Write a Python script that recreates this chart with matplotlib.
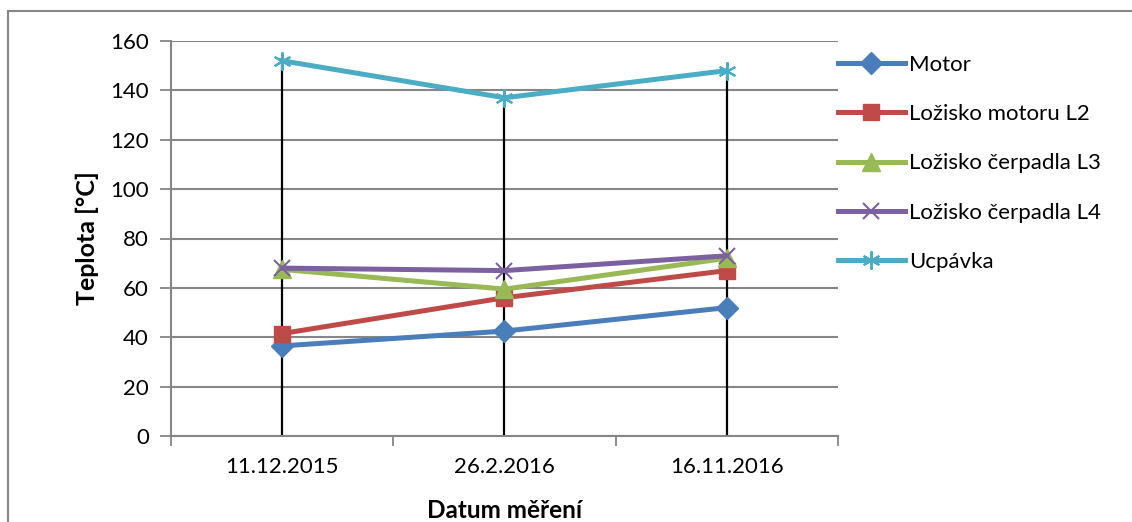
import matplotlib
matplotlib.use("Agg")
import matplotlib.pyplot as plt
from matplotlib.patches import Rectangle
import numpy as np

dates = ["11.12.2015", "26.2.2016", "16.11.2016"]
motor = [36.5, 42.5, 52]
lozisko_l2 = [41.5, 56, 67]
lozisko_l3 = [67.5, 59.5, 72]
lozisko_l4 = [68, 67, 73]
ucpavka = [152, 137, 148]
series_names = ["Motor", "Ložisko motoru L2", "Ložisko čerpadla L3",
                "Ložisko čerpadla L4", "Ucpávka"]
y_ticks = [0, 20, 40, 60, 80, 100, 120, 140, 160]

plt.rcParams["font.family"] = ["Lato", "DejaVu Sans"]
grey = "#868686"

fig = plt.figure(figsize=(11.32, 5.22), dpi=100)
ax = fig.add_axes([171 / 1132, 1 - 436 / 522, (838 - 171) / 1132, (436 - 41) / 522])

# chart area frame
fig.patches.append(Rectangle((8 / 1132, -0.1), 1.2, 1 - 11 / 522 + 0.1,
                             transform=fig.transFigure, fill=False,
                             edgecolor=grey, linewidth=1.5))

x = np.arange(len(dates))
all_series = [motor, lozisko_l2, lozisko_l3, lozisko_l4, ucpavka]

# drop lines from each category down to the axis
tops = np.max(np.array(all_series), axis=0)
ax.vlines(x, 0, tops, color="black", linewidth=1.6, zorder=2)

styles = [
    dict(color="#4A7EBB", marker="D", markersize=11),
    dict(color="#BE4B48", marker="s", markersize=12),
    dict(color="#98B954", marker="^", markersize=13),
    dict(color="#7D60A0", marker="x", markersize=12, markeredgewidth=1.5),
    dict(color="#4BACC6", marker=(6, 2, 0), markersize=13, markeredgewidth=1.5),
]
for name, vals, st in zip(series_names, all_series, styles):
    ax.plot(x, vals, linewidth=3.6, label=name, zorder=3, **st)

ax.set_xlim(-0.5, 2.5)
ax.set_ylim(0, 160)
ax.set_yticks(y_ticks)
ax.set_xticks([-0.5, 0.5, 1.5, 2.5])
ax.set_xticklabels([])
ax.set_xticks(x, minor=True)
ax.set_xticklabels(dates, minor=True)
ax.tick_params(axis="x", which="minor", length=0, pad=15, labelsize=16)
ax.tick_params(axis="x", which="major", direction="out", length=7, color=grey, width=1.3)
ax.tick_params(axis="y", direction="out", length=8, color=grey, width=1.3,
               labelsize=16, pad=8)

ax.grid(axis="y", color=grey, linewidth=1.5, zorder=0)
ax.set_axisbelow(True)
for side in ["top", "right"]:
    ax.spines[side].set_visible(False)
for side in ["left", "bottom"]:
    ax.spines[side].set_color(grey)
    ax.spines[side].set_linewidth(1.5)

ax.set_ylabel("Teplota [°C]", fontsize=18, fontweight="bold", labelpad=8)
ax.set_xlabel("Datum měření", fontsize=17.5, fontweight="bold", labelpad=16)

ax.legend(loc="upper left", bbox_to_anchor=(1.0, 0.965), frameon=False,
          fontsize=16, handlelength=3.0, handletextpad=0.2,
          labelspacing=1.32, borderaxespad=0, borderpad=0)

fig.savefig("out.png", dpi=100)
